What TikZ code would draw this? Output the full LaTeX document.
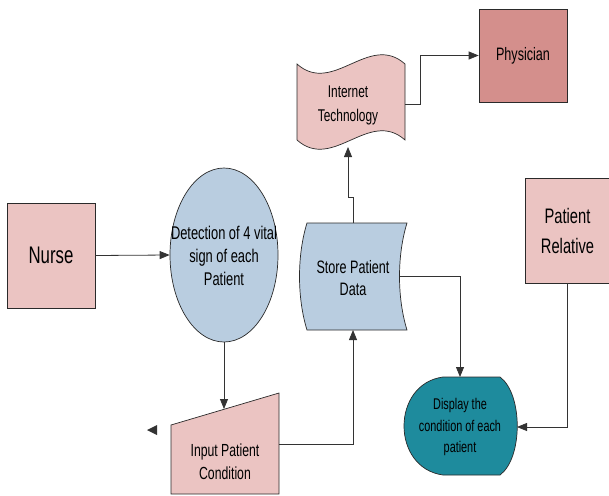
\documentclass[tikz,border=0pt]{standalone}
\usepackage{fontspec}
\setmainfont[FakeStretch=0.7]{Liberation Sans}
\usetikzlibrary{shapes.geometric,arrows.meta}

\definecolor{pinkfill}{HTML}{EBC4C2}
\definecolor{bluefill}{HTML}{B9CDE0}
\definecolor{physfill}{HTML}{D48F8C}
\definecolor{tealfill}{HTML}{1E8B9D}
\definecolor{edge}{HTML}{2A2A2A}
\definecolor{wire}{HTML}{333333}

\tikzset{
  boxshape/.style={draw=edge, line width=0.7pt},
  label/.style={align=center, inner sep=0pt, text=black},
  conn/.style={draw=wire, line width=0.8pt, -{Triangle[length=10pt,width=8pt]}},
}

\begin{document}
\begin{tikzpicture}[x=1pt, y=-1pt]
\useasboundingbox (0,0) rectangle (609,495);

% Nurse
\node[boxshape, fill=pinkfill, minimum width=88pt, minimum height=105pt, inner sep=0pt,
      text=black, font=\fontsize{24}{28}\selectfont] (nurse) at (51,255.5) {Nurse};

% Detection (ellipse)
\node[ellipse, boxshape, fill=bluefill, minimum width=108pt, minimum height=174pt,
      inner sep=0pt] (detect) at (224,255) {};
\node[label, font=\fontsize{18.4}{23}\selectfont] (detecttext) at (224,256)
  {Detection of 4 vital\\sign of each\\Patient};

% Input Patient Condition (manual input)
\path[boxshape, fill=pinkfill] (171,425) -- (279,393) -- (279,494) -- (171,494) -- cycle;
\node[label, font=\fontsize{17.5}{23}\selectfont] (input) at (225,462) {Input Patient\\Condition};
\coordinate (in-top) at (224,409);
\coordinate (in-right) at (279,444);

% Store Patient Data (stored data)
\path[boxshape, fill=bluefill] (307,223) -- (407,223)
  .. controls (397,255) and (397,298) .. (407,330) -- (307,330)
  .. controls (297,298) and (297,255) .. (307,223) -- cycle;
\node[label, font=\fontsize{18}{22}\selectfont] (store) at (353,278) {Store Patient\\Data};
\coordinate (st-bottom) at (353,330);
\coordinate (st-top) at (353,223);
\coordinate (st-right) at (400,276);

% Internet Technology (tape)
\path[boxshape, fill=pinkfill] (297,64)
  .. controls (333,96) and (369,32) .. (405,64) -- (405,140)
  .. controls (369,108) and (333,172) .. (297,140) -- cycle;
\node[label, font=\fontsize{17}{24}\selectfont] (internet) at (348,105) {Internet\\Technology};
\coordinate (it-bottom) at (348,147);
\coordinate (it-right) at (405,104);

% Physician
\node[boxshape, fill=physfill, minimum width=88pt, minimum height=93pt, inner sep=0pt,
      text=black, font=\fontsize{18}{22}\selectfont] (phys) at (523,55.5) {Physician};

% Patient Relative
\node[boxshape, fill=pinkfill, minimum width=85pt, minimum height=105pt, inner sep=0pt,
      text=black, align=center, font=\fontsize{21}{30}\selectfont] (relative) at (567.5,230.5) {Patient\\Relative};

% Display the condition of each patient (display)
\path[boxshape, fill=tealfill] (443,377) -- (500,377)
  .. controls (523,394) and (523,458) .. (500,475) -- (443,475)
  .. controls (391,468) and (391,384) .. (443,377) -- cycle;
\node[label, font=\fontsize{15.5}{21.5}\selectfont] (display) at (460,427)
  {Display the\\condition of each\\patient};
\coordinate (dp-top) at (460,377);
\coordinate (dp-right) at (517,427);

% Connectors
\draw[conn] (nurse.east) -- (detect.west);
\draw[conn] (detect.south) -- (in-top);
\draw[conn] (in-right) -| (st-bottom);
\draw[conn] (st-top) -- ++(0,-26) -- ++(-5,0) -- (it-bottom);
\draw[conn] (it-right) -- ++(15,0) |- (phys.west);
\draw[conn] (st-right) -| (dp-top);
\draw[conn] (relative.south) |- (dp-right);

% Lone arrow head beside the input shape
\coordinate (stray) at (147,430);
\fill[wire] (stray) -- ++(10,-5) -- ++(0,10) -- cycle;

\end{tikzpicture}
\end{document}
